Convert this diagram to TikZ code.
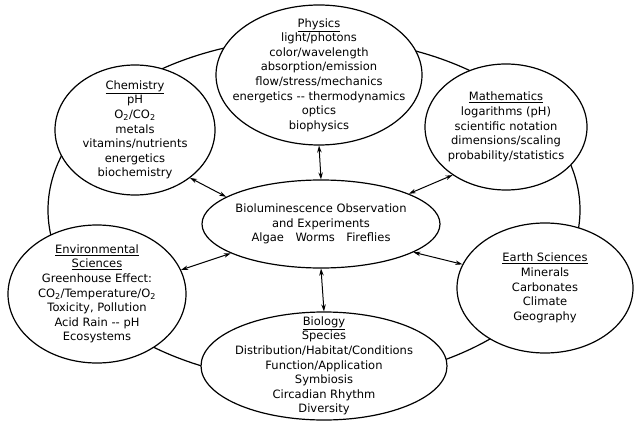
\documentclass[tikz,border=0pt]{standalone}
\usepackage{fontspec}
\setmainfont{DejaVu Sans}
\usetikzlibrary{arrows.meta,shapes.geometric}

\newcommand{\topichead}[1]{\underline{#1}}
\newcommand{\topicfont}{\fontsize{11.5}{14.6}\selectfont}

\begin{document}
\begin{tikzpicture}[x=1pt, y=1pt,
    topic/.style={ellipse, draw, line width=1.2pt, fill=white, inner sep=-20pt, align=center, font=\topicfont},
    link/.style={{Stealth[length=7pt,width=4.5pt]}-{Stealth[length=7pt,width=4.5pt]}, line width=1pt}]
  \useasboundingbox (0,0) rectangle (636,421);

  % Ring behind the topics
  \node[ellipse, draw, line width=1.2pt, minimum width=532pt, minimum height=344pt] (ring) at (314,211) {};

  % Centre
  \node[topic, minimum width=238pt, minimum height=88pt] (obs) at (321,197)
    {Bioluminescence Observation\\and Experiments\\Algae\quad Worms\quad Fireflies};

  % Physics
  \node[topic, minimum width=206pt, minimum height=140pt] (phys) at (319,346)
    {\topichead{Physics}\\light/photons\\color/wavelength\\absorption/emission\\flow/stress/mechanics\\energetics -{}- thermodynamics\\optics\\biophysics};

  % Chemistry
  \node[topic, minimum width=160pt, minimum height=130pt] (chem) at (135,291)
    {\topichead{Chemistry}\\pH\\O\textsubscript{2}/CO\textsubscript{2}\\metals\\vitamins/nutrients\\energetics\\biochemistry};

  % Mathematics
  \node[topic, minimum width=162pt, minimum height=126pt] (math) at (506,294)
    {\topichead{Mathematics}\\logarithms (pH)\\scientific notation\\dimensions/scaling\\probability/statistics};

  % Environmental sciences
  \node[topic, minimum width=178pt, minimum height=138pt] (env) at (97,127)
    {\topichead{Environmental}\\\topichead{Sciences}\\Greenhouse Effect:\\CO\textsubscript{2}/Temperature/O\textsubscript{2}\\Toxicity, Pollution\\Acid Rain -{}- pH\\Ecosystems};

  % Earth sciences
  \node[topic, minimum width=176pt, minimum height=130pt] (earth) at (545,133)
    {\topichead{Earth Sciences}\\Minerals\\Carbonates\\Climate\\Geography};

  % Biology
  \node[topic, minimum width=246pt, minimum height=108pt] (bio) at (324,55)
    {\topichead{Biology}\\Species\\Distribution/Habitat/Conditions\\Function/Application\\Symbiosis\\Circadian Rhythm\\Diversity};

  % Links to the centre
  \draw[link] (phys.south) -- (obs.north);
  \draw[link] (obs.south) -- (bio.north);
  \draw[link] (chem.-41) -- (obs.164);
  \draw[link] (obs.19) -- (math.222);
  \draw[link] (env.16) -- (obs.198);
  \draw[link] (obs.-17) -- (earth.164);
\end{tikzpicture}
\end{document}
